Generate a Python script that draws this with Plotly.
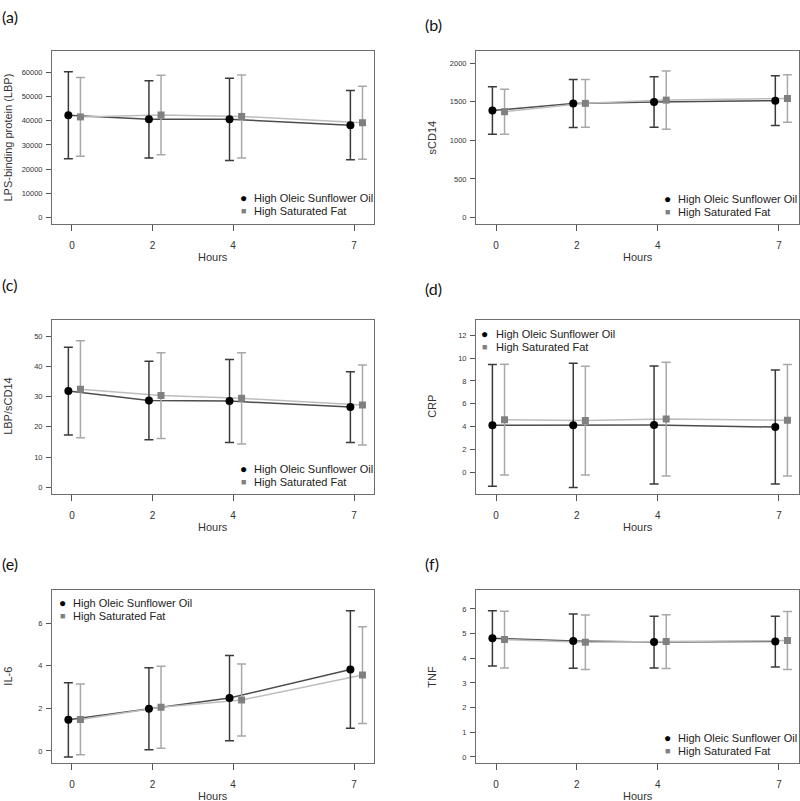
import plotly.graph_objects as go

# ---------------- data ----------------
HOURS = [0, 2, 4, 7]
X_TICK_LABELS = ["0", "2", "4", "7"]
SERIES_NAMES = ["High Oleic Sunflower Oil", "High Saturated Fat"]
PANEL_LABELS = ["(a)", "(b)", "(c)", "(d)", "(e)", "(f)"]
Y_TITLES = ["LPS-binding protein (LBP)", "sCD14", "LBP/sCD14", "CRP", "IL-6", "TNF"]

LBP_HOSO_MEAN = [42300, 40600, 40600, 38200]
LBP_HOSO_SD = [18000, 16000, 17000, 14300]
LBP_HSF_MEAN = [41600, 42400, 41800, 39200]
LBP_HSF_SD = [16300, 16500, 17200, 15100]

SCD14_HOSO_MEAN = [1385, 1477, 1496, 1513]
SCD14_HOSO_SD = [307, 310, 326, 321]
SCD14_HSF_MEAN = [1370, 1478, 1520, 1541]
SCD14_HSF_SD = [292, 310, 376, 306]

RATIO_HOSO_MEAN = [31.8, 28.7, 28.5, 26.5]
RATIO_HOSO_SD = [14.5, 13.0, 13.7, 11.7]
RATIO_HSF_MEAN = [32.4, 30.3, 29.4, 27.2]
RATIO_HSF_SD = [16.0, 14.2, 15.1, 13.2]

CRP_HOSO_MEAN = [4.10, 4.10, 4.13, 3.95]
CRP_HOSO_SD = [5.34, 5.45, 5.18, 5.00]
CRP_HSF_MEAN = [4.60, 4.52, 4.65, 4.55]
CRP_HSF_SD = [4.86, 4.78, 5.00, 4.90]

IL6_HOSO_MEAN = [1.46, 1.98, 2.48, 3.82]
IL6_HOSO_SD = [1.74, 1.92, 2.00, 2.76]
IL6_HSF_MEAN = [1.48, 2.05, 2.39, 3.56]
IL6_HSF_SD = [1.66, 1.92, 1.69, 2.27]

TNF_HOSO_MEAN = [4.81, 4.70, 4.66, 4.68]
TNF_HOSO_SD = [1.12, 1.10, 1.05, 1.03]
TNF_HSF_MEAN = [4.76, 4.65, 4.68, 4.72]
TNF_HSF_SD = [1.15, 1.11, 1.09, 1.18]

Y_TICKS = [
    [0, 10000, 20000, 30000, 40000, 50000, 60000],
    [0, 500, 1000, 1500, 2000],
    [0, 10, 20, 30, 40, 50],
    [0, 2, 4, 6, 8, 10, 12],
    [0, 2, 4, 6],
    [0, 1, 2, 3, 4, 5, 6],
]

# ---------------- layout constants ----------------
W, H = 800, 801
DODGE_HOSO = -0.09
DODGE_HSF = 0.21
X_RANGE = [-0.496, 7.496]
Y_RANGES = [
    [-2750, 68900],
    [-84, 2156],
    [-2.13, 55.3],
    [-1.90, 13.35],
    [-0.58, 7.55],
    [-0.26, 6.77],
]
# box pixel positions (left, right, top, bottom)
COLS = [(52, 374), (476, 799)]
ROWS = [(51, 224), (320, 493.7), (590, 763.3)]
LABEL_POS = [(0, 16.5), (423, 25), (0, 284), (423, 288), (0, 563), (423, 563)]
# legend: (symbol center x, first row y), row gap
LEGEND_POS = [(243, 198), (667, 199), (243, 468.5), (485, 334), (62, 603), (667, 738)]
LEG_GAP = 13.3

panels = [
    (LBP_HOSO_MEAN, LBP_HOSO_SD, LBP_HSF_MEAN, LBP_HSF_SD),
    (SCD14_HOSO_MEAN, SCD14_HOSO_SD, SCD14_HSF_MEAN, SCD14_HSF_SD),
    (RATIO_HOSO_MEAN, RATIO_HOSO_SD, RATIO_HSF_MEAN, RATIO_HSF_SD),
    (CRP_HOSO_MEAN, CRP_HOSO_SD, CRP_HSF_MEAN, CRP_HSF_SD),
    (IL6_HOSO_MEAN, IL6_HOSO_SD, IL6_HSF_MEAN, IL6_HSF_SD),
    (TNF_HOSO_MEAN, TNF_HOSO_SD, TNF_HSF_MEAN, TNF_HSF_SD),
]

FONT = "Liberation Sans, Arial, sans-serif"
C_HOSO_MARK = "#000000"
C_HOSO_LINE = "#4d4d4d"
C_HOSO_ERR = "#3a3a3a"
C_HSF_MARK = "#808080"
C_HSF_LINE = "#bdbdbd"
C_HSF_ERR = "#a8a8a8"

def px(x):
    return x / W

def py(y):
    return 1 - y / H

fig = go.Figure()
annotations = []
layout = {}

x_hoso = [h + DODGE_HOSO for h in HOURS]
x_hsf = [h + DODGE_HSF for h in HOURS]

for i, (m1, s1, m2, s2) in enumerate(panels):
    r, c = divmod(i, 2)
    xl, xr = COLS[c]
    yt, yb = ROWS[r]
    sfx = "" if i == 0 else str(i + 1)
    xa, ya = "x" + sfx, "y" + sfx

    # connecting lines
    fig.add_trace(go.Scatter(x=x_hoso, y=m1, mode="lines", xaxis=xa, yaxis=ya,
                             line=dict(color=C_HOSO_LINE, width=1.5), showlegend=False, hoverinfo="skip"))
    fig.add_trace(go.Scatter(x=x_hsf, y=m2, mode="lines", xaxis=xa, yaxis=ya,
                             line=dict(color=C_HSF_LINE, width=1.5), showlegend=False, hoverinfo="skip"))
    # HSF points + error bars
    fig.add_trace(go.Scatter(x=x_hsf, y=m2, mode="markers", xaxis=xa, yaxis=ya, name=SERIES_NAMES[1],
                             marker=dict(symbol="square", size=7, color=C_HSF_MARK),
                             error_y=dict(type="data", array=s2, color=C_HSF_ERR, thickness=1.5, width=4.5),
                             showlegend=False))
    # HOSO points + error bars
    fig.add_trace(go.Scatter(x=x_hoso, y=m1, mode="markers", xaxis=xa, yaxis=ya, name=SERIES_NAMES[0],
                             marker=dict(symbol="circle", size=8, color=C_HOSO_MARK),
                             error_y=dict(type="data", array=s1, color=C_HOSO_ERR, thickness=1.5, width=4.5),
                             showlegend=False))

    layout["xaxis" + sfx] = dict(
        domain=[px(xl), px(xr)], anchor=ya, range=X_RANGE,
        tickvals=HOURS, ticktext=X_TICK_LABELS, ticks="outside", ticklen=6, tickwidth=1,
        tickcolor="#555555", showline=True, linecolor="#6e6e6e", linewidth=1, mirror=True,
        showgrid=False, zeroline=False, tickfont=dict(size=10, color="#333333", family=FONT),
        ticklabelstandoff=6,
    )
    layout["yaxis" + sfx] = dict(
        domain=[py(yb), py(yt)], anchor=xa, range=Y_RANGES[i],
        tickvals=Y_TICKS[i], tickformat="d", ticks="outside", ticklen=5, tickwidth=1,
        tickcolor="#555555", showline=True, linecolor="#6e6e6e", linewidth=1, mirror=True,
        showgrid=False, zeroline=False, tickfont=dict(size=7.5, color="#333333", family=FONT),
        ticklabelstandoff=2,
    )

    # panel label
    lx, ly = LABEL_POS[i]
    annotations.append(dict(text=PANEL_LABELS[i], x=px(lx), y=py(ly), xref="paper", yref="paper",
                            xanchor="left", yanchor="middle", showarrow=False,
                            font=dict(size=16, color="#111111", family="Lato, Open Sans, sans-serif")))
    # x title
    annotations.append(dict(text="Hours", x=px((xl + xr) / 2), y=py(yb + 33), xref="paper", yref="paper",
                            xanchor="center", yanchor="middle", showarrow=False,
                            font=dict(size=11, color="#333333", family=FONT)))
    # y title
    annotations.append(dict(text=Y_TITLES[i], x=px(xl - 44), y=py((yt + yb) / 2), xref="paper", yref="paper",
                            xanchor="center", yanchor="middle", textangle=-90, showarrow=False,
                            font=dict(size=11, color="#333333", family=FONT)))
    # legend
    gx, gy = LEGEND_POS[i]
    for k, (sym, col, sz) in enumerate([("●", C_HOSO_MARK, 12), ("■", C_HSF_MARK, 9)]):
        annotations.append(dict(text=sym, x=px(gx), y=py(gy + k * LEG_GAP), xref="paper", yref="paper",
                                xanchor="center", yanchor="middle", showarrow=False,
                                font=dict(size=sz, color=col, family=FONT)))
        annotations.append(dict(text=SERIES_NAMES[k], x=px(gx + 9), y=py(gy + k * LEG_GAP), xref="paper",
                                yref="paper", xanchor="left", yanchor="middle", showarrow=False,
                                font=dict(size=11, color="#222222", family=FONT)))

fig.update_layout(
    width=W, height=H, margin=dict(l=0, r=0, t=0, b=0),
    paper_bgcolor="white", plot_bgcolor="white", showlegend=False,
    annotations=annotations, **layout,
)

fig.write_html(
    "out.html",
    config={"displayModeBar": False},
    post_script="document.body.style.margin='0';document.body.style.overflow='hidden';",
)
